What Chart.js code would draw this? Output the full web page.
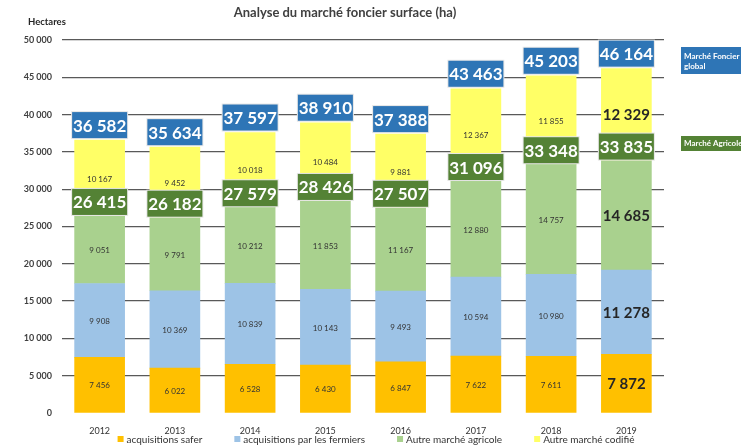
<!DOCTYPE html>
<html>
<head>
<meta charset="utf-8">
<script src="https://cdn.jsdelivr.net/npm/chart.js@4"></script>
<style>
  html, body { margin: 0; padding: 0; background: #fff; }
  canvas { display: block; }
</style>
</head>
<body>
<canvas id="chart" width="741" height="446"></canvas>
<script>
// Surfaces (ha) par année
const years = ["2012", "2013", "2014", "2015", "2016", "2017", "2018", "2019"];
const safer = [7456, 6022, 6528, 6430, 6847, 7622, 7611, 7872];
const fermiers = [9908, 10369, 10839, 10143, 9493, 10594, 10980, 11278];
const autreAgricole = [9051, 9791, 10212, 11853, 11167, 12880, 14757, 14685];
const autreCodifie = [10167, 9452, 10018, 10484, 9881, 12367, 11855, 12329];
const totalAgricole = [26415, 26182, 27579, 28426, 27507, 31096, 33348, 33835];
const totalGlobal = [36582, 35634, 37597, 38910, 37388, 43463, 45203, 46164];

const SERIES_COLORS = ["#FFC000", "#9DC3E6", "#A9D18E", "#FFFF66"];
const BLUE = "#2E75B6";
const GREEN = "#548235";
const FONT = "Lato, 'Open Sans', sans-serif";

function fmt(n) {
  return String(n).replace(/\B(?=(\d{3})+(?!\d))/g, " ");
}

function box(ctx, cx, bottom, w, h, fill, text, font) {
  ctx.fillStyle = "#e6e6e6";
  ctx.fillRect(cx - w / 2 - 1, bottom - h - 1, w + 2, h + 2);
  ctx.fillStyle = fill;
  ctx.fillRect(cx - w / 2, bottom - h, w, h);
  ctx.fillStyle = "#fff";
  ctx.font = font;
  ctx.textAlign = "center";
  ctx.textBaseline = "middle";
  ctx.fillText(text, cx, bottom - h / 2 + 1);
}

const overlays = {
  id: "overlays",
  afterDatasetsDraw(chart) {
    const ctx = chart.ctx;
    const y = chart.scales.y;
    const last = years.length - 1;
    ctx.save();

    // valeurs dans les segments
    chart.data.datasets.forEach((ds, di) => {
      const meta = chart.getDatasetMeta(di);
      meta.data.forEach((bar, i) => {
        const big = i === last;
        ctx.font = big ? `bold 15px ${FONT}` : `8px ${FONT}`;
        ctx.fillStyle = big ? "#262626" : "#333";
        ctx.textAlign = "center";
        ctx.textBaseline = "middle";
        ctx.fillText(fmt(ds.data[i]), bar.x, (bar.y + bar.base) / 2 + 1);
      });
    });

    // totaux encadrés
    const meta0 = chart.getDatasetMeta(0);
    meta0.data.forEach((bar, i) => {
      box(ctx, bar.x, y.getPixelForValue(totalAgricole[i]) - 1, 55, 26, GREEN, fmt(totalAgricole[i]), `bold 17px ${FONT}`);
      box(ctx, bar.x, y.getPixelForValue(totalGlobal[i]) - 2, 55, 26, BLUE, fmt(totalGlobal[i]), `bold 17px ${FONT}`);
    });
    ctx.restore();
  },
  afterDraw(chart) {
    const ctx = chart.ctx;
    ctx.save();
    ctx.textBaseline = "middle";

    // titre
    ctx.fillStyle = "#404040";
    ctx.font = `bold 13px ${FONT}`;
    ctx.textAlign = "center";
    ctx.fillText("Analyse du marché foncier surface (ha)", 345, 13);

    // unité
    ctx.font = `bold 9.5px ${FONT}`;
    ctx.textAlign = "left";
    ctx.fillStyle = "#262626";
    ctx.fillText("Hectares", 28, 22);

    // étiquettes à droite
    ctx.fillStyle = BLUE;
    ctx.fillRect(681, 47, 70, 27);
    ctx.fillStyle = GREEN;
    ctx.fillRect(681, 136, 70, 15);
    ctx.fillStyle = "#fff";
    ctx.font = `bold 8px ${FONT}`;
    ctx.fillText("Marché Foncier", 684, 56);
    ctx.fillText("global", 684, 66);
    ctx.fillText("Marché Agricole", 684, 143.5);

    // légende
    ctx.font = `10px ${FONT}`;
    const items = chart.data.datasets.map(ds => ({ label: ds.label, color: ds.backgroundColor }));
    const gap = 32;
    const widths = items.map(it => 9 + ctx.measureText(it.label).width);
    const total = widths.reduce((a, b) => a + b, 0) + gap * (items.length - 1);
    let x = 376 - total / 2;
    items.forEach((it, i) => {
      ctx.fillStyle = it.color;
      ctx.fillRect(x, 436, 6, 6);
      ctx.fillStyle = "#333";
      ctx.fillText(it.label, x + 9, 439.5);
      x += widths[i] + gap;
    });
    ctx.restore();
  }
};

const seriesData = [safer, fermiers, autreAgricole, autreCodifie];
const seriesLabels = ["acquisitions safer", "acquisitions par les fermiers", "Autre marché agricole", "Autre marché codifié"];

new Chart(document.getElementById("chart"), {
  type: "bar",
  data: {
    labels: years,
    datasets: seriesData.map((d, i) => ({
      label: seriesLabels[i],
      data: d,
      backgroundColor: SERIES_COLORS[i],
      borderWidth: 0,
      barThickness: 50
    }))
  },
  options: {
    responsive: false,
    animation: false,
    devicePixelRatio: 1,
    layout: { padding: { top: 40, left: 0, right: 77, bottom: 8 } },
    plugins: {
      legend: { display: false },
      title: { display: false },
      tooltip: { enabled: false }
    },
    scales: {
      x: {
        stacked: true,
        grid: { display: false },
        border: { display: false },
        ticks: { color: "#333", font: { family: FONT, size: 9 }, padding: 5 },
        afterFit(s) { s.height = 25; }
      },
      y: {
        stacked: true,
        min: 0,
        max: 50000,
        ticks: {
          stepSize: 5000,
          color: "#404040",
          padding: 10,
          font: { family: FONT, size: 9, weight: "bold" },
          callback: v => fmt(v)
        },
        grid: {
          drawTicks: false,
          color: c => (c.tick && c.tick.value === 0 ? "rgba(0,0,0,0)" : "#595959"),
          lineWidth: 1.3
        },
        border: { display: false },
        afterFit(s) { s.width = 62; }
      }
    }
  },
  plugins: [overlays]
});
</script>
</body>
</html>
